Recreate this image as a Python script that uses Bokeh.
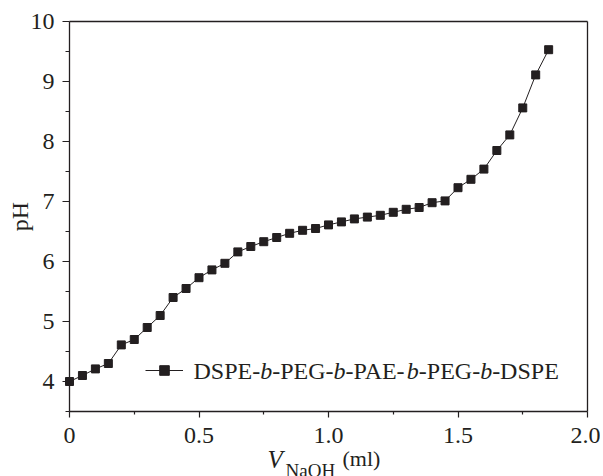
from bokeh.plotting import figure
from bokeh.models import (Range1d, FixedTicker, Legend, LegendItem, Label,
                          ColumnDataSource, LinearAxis)
from bokeh.embed import file_html
from bokeh.resources import INLINE

# ---- data ----
v_naoh = [0.00, 0.05, 0.10, 0.15, 0.20, 0.25, 0.30, 0.35, 0.40, 0.45,
          0.50, 0.55, 0.60, 0.65, 0.70, 0.75, 0.80, 0.85, 0.90, 0.95,
          1.00, 1.05, 1.10, 1.15, 1.20, 1.25, 1.30, 1.35, 1.40, 1.45,
          1.50, 1.55, 1.60, 1.65, 1.70, 1.75, 1.80, 1.85]
ph = [4.00, 4.10, 4.21, 4.30, 4.61, 4.70, 4.90, 5.10, 5.40, 5.55,
      5.73, 5.86, 5.97, 6.16, 6.25, 6.33, 6.40, 6.47, 6.52, 6.55,
      6.61, 6.66, 6.71, 6.74, 6.77, 6.82, 6.87, 6.90, 6.98, 7.01,
      7.23, 7.37, 7.54, 7.85, 8.11, 8.56, 9.11, 9.53]
# series name "DSPE-b-PEG-b-PAE-b-PEG-b-DSPE" split into (text, italic) pieces
series_name_parts = [("DSPE-", False), ("b", True), ("-PEG-", False), ("b", True),
                     ("-PAE-", False), ("b", True), ("-PEG-", False), ("b", True),
                     ("-DSPE", False)]
x_ticks = [0, 0.5, 1.0, 1.5, 2.0]
x_tick_labels = ["0", "0.5", "1.0", "1.5", "2.0"]
x_minor = [0.25, 0.75, 1.25, 1.75]
y_ticks = [4, 5, 6, 7, 8, 9, 10]
y_minor = [3.5, 4.5, 5.5, 6.5, 7.5, 8.5, 9.5]
X_MIN, X_MAX = 0.0, 2.0
Y_MIN, Y_MAX = 3.5, 10.0

INK = "#231f20"
FONT = "Liberation Serif"
FS = 24  # px

# Times / Liberation Serif advance widths (per 1000 em) for the legend pieces
ADV = {"D": 722, "S": 556, "P": 556, "E": 611, "-": 333, "G": 722, "A": 722}
ADV_ITALIC_B = 500

# Canvas geometry: the Bokeh frame fills the whole canvas, the visible
# axes box sits at pixels (AXL..AXR, AXT..AXB).
W, H = 600, 476
AXL, AXT, AXR, AXB = 69, 21, 587, 411
px_per_x = (AXR - AXL) / (X_MAX - X_MIN)
px_per_y = (AXB - AXT) / (Y_MAX - Y_MIN)
x_start = X_MIN - AXL / px_per_x
x_end = X_MAX + (W - AXR) / px_per_x
y_start = Y_MIN - (H - AXB) / px_per_y
y_end = Y_MAX + AXT / px_per_y

p = figure(width=W, height=H, output_backend="svg", toolbar_location=None,
           x_range=Range1d(x_start, x_end), y_range=Range1d(y_start, y_end),
           x_axis_location=None, y_axis_location=None)
p.min_border = 0
p.min_border_left = 0
p.min_border_right = 0
p.min_border_top = 0
p.min_border_bottom = 0
p.grid.visible = False
p.background_fill_color = "white"
p.border_fill_color = "white"
p.outline_line_color = None

src = ColumnDataSource(dict(x=v_naoh, y=ph))
ln = p.line("x", "y", source=src, line_color=INK, line_width=1)
sc = p.scatter("x", "y", source=src, marker="square", size=8,
               fill_color=INK, line_color=INK)


def style_axis(ax):
    ax.axis_line_color = INK
    ax.axis_line_width = 1.3
    ax.major_tick_line_color = INK
    ax.minor_tick_line_color = INK
    ax.major_tick_line_width = 1.2
    ax.minor_tick_line_width = 1.2
    ax.major_tick_in = 0
    ax.minor_tick_in = 0
    ax.major_label_text_font = FONT
    ax.major_label_text_font_size = f"{FS}px"
    ax.major_label_text_color = INK
    ax.axis_label_text_font = FONT
    ax.axis_label_text_font_size = f"{FS}px"
    ax.axis_label_text_font_style = "normal"
    ax.axis_label_text_color = INK


# bottom x axis at pH = 3.5
xa = LinearAxis(fixed_location=Y_MIN, bounds=(X_MIN, X_MAX),
                ticker=FixedTicker(ticks=x_ticks, minor_ticks=x_minor))
style_axis(xa)
xa.major_label_overrides = {float(t): s for t, s in zip(x_ticks, x_tick_labels)}
xa.major_tick_out = 6
xa.minor_tick_out = 3
xa.major_label_standoff = 10
p.add_layout(xa, "below")

# left y axis at V = 0
ya = LinearAxis(fixed_location=X_MIN, bounds=(Y_MIN, Y_MAX),
                ticker=FixedTicker(ticks=y_ticks, minor_ticks=y_minor),
                axis_label="pH")
style_axis(ya)
ya.axis_label_standoff = -5
ya.major_tick_out = 7
ya.minor_tick_out = 4
ya.major_label_standoff = 8
p.add_layout(ya, "left")

# plain box lines on top and right
ta = LinearAxis(fixed_location=Y_MAX, bounds=(X_MIN, X_MAX),
                ticker=FixedTicker(ticks=[], minor_ticks=[]))
style_axis(ta)
ta.major_tick_out = 0
ta.minor_tick_out = 0
ta.major_label_standoff = 0
p.add_layout(ta, "above")

ra = LinearAxis(fixed_location=X_MAX, bounds=(Y_MIN, Y_MAX),
                ticker=FixedTicker(ticks=[], minor_ticks=[]))
style_axis(ra)
ra.major_tick_out = 0
ra.minor_tick_out = 0
ra.major_label_standoff = 0
p.add_layout(ra, "right")


def px_to_x(px):
    return X_MIN + (px - AXL) / px_per_x


def py_to_y(py):
    return Y_MIN + (AXB - py) / px_per_y


# x axis title: V_NaOH (ml)
p.add_layout(Label(x=px_to_x(267), y=py_to_y(459), text="V",
                   text_font=FONT, text_font_size="25px", text_font_style="italic",
                   text_color=INK, text_baseline="alphabetic", text_align="left"))
p.add_layout(Label(x=px_to_x(285), y=py_to_y(470), text="NaOH",
                   text_font=FONT, text_font_size="19px",
                   text_color=INK, text_baseline="alphabetic", text_align="left"))
p.add_layout(Label(x=px_to_x(342), y=py_to_y(458), text="(ml)",
                   text_font=FONT, text_font_size="22px",
                   text_color=INK, text_baseline="alphabetic", text_align="left"))

# legend: sample glyph from Bokeh's Legend, label typeset in pieces (italic b)
LEG_LEFT, LEG_BOTTOM, GLYPH_W, GLYPH_H, STANDOFF = 145, 382, 38, 24, 10
legend = Legend(items=[LegendItem(label=" ", renderers=[ln, sc])],
                location=(LEG_LEFT, H - LEG_BOTTOM))
legend.label_text_font = FONT
legend.label_text_font_size = f"{FS}px"
legend.label_text_color = INK
legend.glyph_width = GLYPH_W
legend.glyph_height = GLYPH_H
legend.label_standoff = STANDOFF
legend.padding = 0
legend.margin = 0
legend.spacing = 0
legend.border_line_alpha = 0
legend.background_fill_alpha = 0
p.add_layout(legend)

cx = LEG_LEFT + GLYPH_W + STANDOFF
cy = LEG_BOTTOM - GLYPH_H / 2
for txt, ital in series_name_parts:
    p.add_layout(Label(x=px_to_x(cx), y=py_to_y(cy), text=txt,
                       text_font=FONT, text_font_size=f"{FS}px",
                       text_font_style="italic" if ital else "normal",
                       text_color=INK, text_baseline="middle", text_align="left"))
    if ital:
        cx += ADV_ITALIC_B / 1000 * FS
    else:
        cx += sum(ADV[c] for c in txt) / 1000 * FS

open("out.html", "w").write(file_html(p, INLINE))
